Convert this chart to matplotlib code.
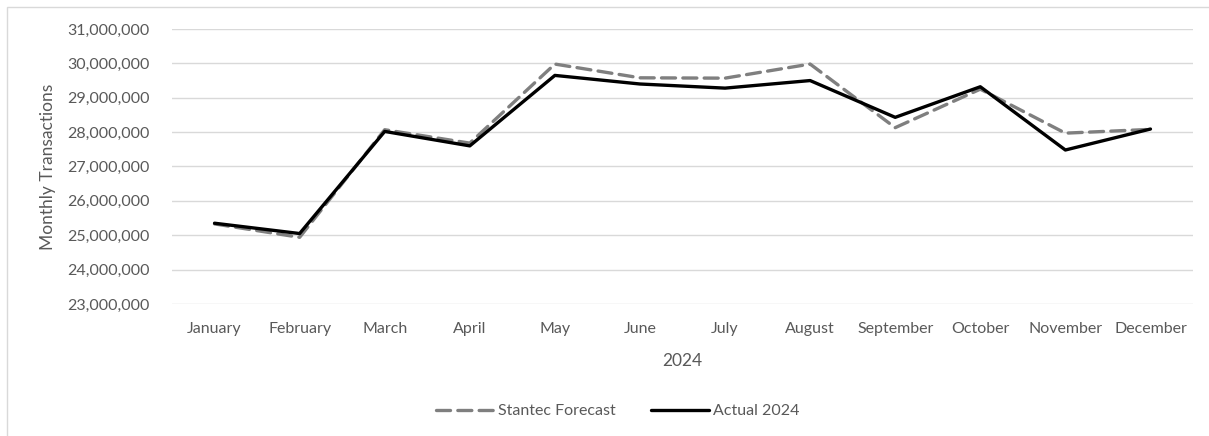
import matplotlib.pyplot as plt
from matplotlib.patches import Rectangle
from matplotlib.ticker import FuncFormatter

plt.rcParams['font.family'] = ['Lato', 'DejaVu Sans']

months = ['January', 'February', 'March', 'April', 'May', 'June', 'July',
          'August', 'September', 'October', 'November', 'December']
forecast = [25330000, 24940000, 28070000, 27680000, 29980000, 29580000,
            29570000, 29980000, 28130000, 29250000, 27970000, 28080000]
actual = [25350000, 25050000, 28020000, 27600000, 29650000, 29400000,
          29280000, 29500000, 28430000, 29320000, 27480000, 28090000]

txt = '#595959'
grid = '#d9d9d9'

fig = plt.figure(figsize=(12.09, 4.36), dpi=100)
# chart area frame (Excel style)
fig.patches.append(Rectangle((7 / 1209, -0.05), 1.1, 1 - 7 / 436 + 0.05,
                             transform=fig.transFigure, fill=False,
                             edgecolor=grid, linewidth=1))

ax = fig.add_axes([172 / 1209, 1 - 304 / 436, (1193 - 172) / 1209, (304 - 29) / 436])
x = list(range(len(months)))
ax.plot(x, forecast, color='#7f7f7f', linewidth=2.4, dashes=(4.2, 2.2),
        solid_capstyle='round', dash_capstyle='round', label='Stantec Forecast')
ax.plot(x, actual, color='black', linewidth=2.4, solid_capstyle='round',
        label='Actual 2024')

ax.set_xlim(-0.5, len(months) - 0.5)
ax.set_ylim(23000000, 31000000)
ax.set_yticks(range(23000000, 31000001, 1000000))
ax.yaxis.set_major_formatter(FuncFormatter(lambda v, p: f'{int(v):,}'))
ax.set_xticks(x)
ax.set_xticklabels(months)
ax.grid(axis='y', color=grid, linewidth=1)
ax.set_axisbelow(True)
for s in ax.spines.values():
    s.set_visible(False)
ax.tick_params(length=0, labelsize=11.5, colors=txt)
ax.tick_params(axis='x', pad=13)
ax.tick_params(axis='y', pad=16)
ax.set_xlabel('2024', fontsize=12.5, color=txt, labelpad=12)
ax.set_ylabel('Monthly Transactions', fontsize=12.5, color=txt, labelpad=8)

fig.legend(loc='center', bbox_to_anchor=(618 / 1209, 1 - 411 / 436), ncol=2,
           frameon=False, fontsize=11.5, labelcolor=txt, handlelength=3.6,
           handletextpad=0.3, columnspacing=2.2)

fig.savefig('out.png', dpi=100)
